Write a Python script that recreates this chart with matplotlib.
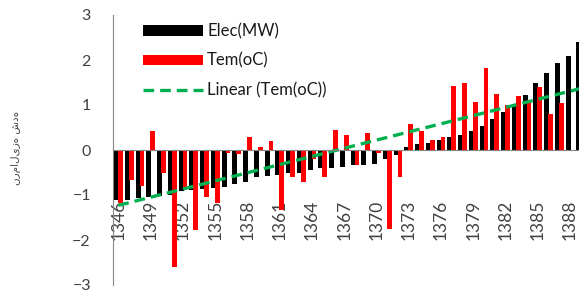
import numpy as np
import matplotlib
matplotlib.use('Agg')
import matplotlib.pyplot as plt
from matplotlib.lines import Line2D
from matplotlib.patches import Patch

nan = np.nan
years = list(range(1346, 1390))
elec = [-1.10, -1.10, -1.07, -1.05, -1.03, -1.00, -0.90, -0.88, -0.87, -0.85,
        -0.83, -0.76, -0.70, -0.61, -0.58, -0.56, -0.52, -0.50, -0.44, -0.41,
        -0.39, -0.37, -0.33, -0.33, -0.30, -0.21, -0.11, 0.06, 0.13, 0.16,
        0.22, 0.30, 0.33, 0.43, 0.53, 0.69, 0.85, 1.01, 1.23, 1.48,
        1.72, 1.93, 2.10, 2.39]
tem = [-1.18, -0.67, -0.80, 0.42, -0.50, -2.59, -0.85, -1.78, -1.04, -1.17,
       -0.06, -0.09, 0.30, 0.06, 0.21, -1.33, -0.59, -0.70, -0.19, -0.59,
       0.44, 0.33, -0.33, 0.37, -0.07, -1.76, -0.61, 0.58, 0.43, 0.22,
       0.30, 1.43, 1.48, 1.06, 1.83, 1.24, 1.00, 1.19, 1.11, 1.39,
       0.81, 1.04, nan, nan]
tick_years = years[::3]
labels = ['Elec(MW)', 'Tem(oC)', 'Linear (Tem(oC))']
ylabel = 'نرمالیزه شده'

plt.rcParams['font.family'] = ['Lato', 'DejaVu Sans']

W, H = 579, 293
fig = plt.figure(figsize=(W / 100, H / 100), dpi=100)
ax = fig.add_axes([113 / W, 8 / H, 473 / W, 270 / H])

x = np.arange(len(years))
e = np.array(elec, dtype=float)
t = np.array(tem, dtype=float)
bw = 0.46
ax.bar(x - 0.16, e, width=bw, color='black', zorder=2)
ax.bar(x + 0.20, t, width=bw, color='#FF0000', zorder=3)

ok = ~np.isnan(t)
coef = np.polyfit(x[ok], t[ok], 1)
xl = np.array([x[0], x[-1] + 0.5])
ax.plot(xl, np.polyval(coef, xl), color='#00B050', lw=2.4,
        dashes=(3.2, 1.8), zorder=4)

ax.set_xlim(-0.5, len(years) - 0.5)
ax.set_ylim(-3, 3)
ax.set_yticks(range(-3, 4))
ax.set_xticks(x[::3])
ax.set_xticklabels([str(y) for y in tick_years])
ax.tick_params(axis='x', length=0, pad=36, labelsize=12.5, colors='#404040',
               labelrotation=90)
ax.tick_params(axis='y', length=0, pad=16, labelsize=11.5, colors='#404040')
for s in ['top', 'right']:
    ax.spines[s].set_visible(False)
ax.spines['bottom'].set_position(('data', 0))
ax.spines['bottom'].set_color('#868686')
ax.spines['left'].set_color('#868686')
ax.spines['bottom'].set_zorder(5)
ax.patch.set_alpha(0)

handles = [Patch(facecolor='black'), Patch(facecolor='#FF0000'),
           Line2D([0], [0], color='#00B050', lw=2.4, dashes=(3.2, 1.8))]
fig.legend(handles, labels, loc='upper left',
           bbox_to_anchor=(143 / W, 1 - 23 / H), frameon=False,
           borderpad=0, borderaxespad=0, handlelength=3.6, handleheight=0.62,
           handletextpad=0.25, labelspacing=0.82, fontsize=12,
           labelcolor='#1a1a1a')

fig.text(16 / W, 145 / H, ylabel, rotation=90, ha='center', va='center',
         fontsize=7.5, family=['DejaVu Sans'], color='#404040')

fig.savefig('out.png', dpi=100)
